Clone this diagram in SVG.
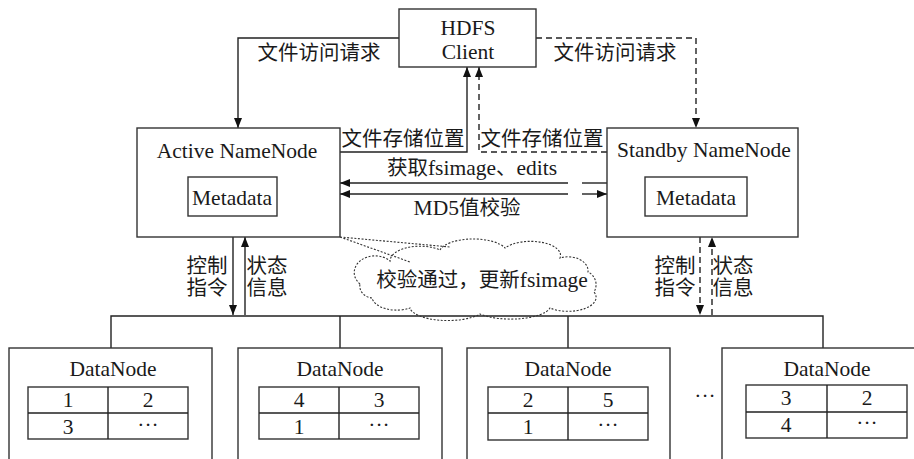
<svg xmlns="http://www.w3.org/2000/svg" width="914" height="459" viewBox="0 0 914 459">
<defs>
<style>
.box{fill:#fff;stroke:#333;stroke-width:1.4}
.ln{fill:none;stroke:#222;stroke-width:1.4}
.dl{fill:none;stroke:#222;stroke-width:1.4;stroke-dasharray:6 4}
.dot{fill:none;stroke:#333;stroke-width:1.1;stroke-dasharray:2 1.6}
.t{font-family:"Liberation Serif","Noto Sans CJK SC",serif;font-size:21.5px;fill:#1a1a1a;text-anchor:middle}
.c{font-family:"Liberation Serif","Noto Sans CJK SC",serif;font-size:20.5px;fill:#1a1a1a;text-anchor:middle}
</style>
<marker id="ah" markerUnits="userSpaceOnUse" markerWidth="10" markerHeight="8" refX="10" refY="4" orient="auto">
<path d="M0,0 L10,4 L0,8 z" fill="#111"/>
</marker>
</defs>
<rect width="914" height="459" fill="#fff"/>

<g id="connectors">
<path class="ln" d="M399,38 H238 V128" marker-end="url(#ah)"/>
<path class="dl" d="M536,38 H696 V128" marker-end="url(#ah)"/>
<path class="ln" d="M340,152 H467 V67" marker-end="url(#ah)"/>
<path class="dl" d="M607,152 H479 V67" marker-end="url(#ah)"/>
<path class="ln" d="M568,183 H340" marker-end="url(#ah)"/>
<path class="ln" d="M582,183 H607"/>
<path class="ln" d="M568,194 H340" marker-end="url(#ah)"/>
<path class="ln" d="M582,194 H607" marker-end="url(#ah)"/>
<path class="ln" d="M233,237 V315" marker-end="url(#ah)"/>
<path class="ln" d="M245,315 V237" marker-end="url(#ah)"/>
<path class="dl" d="M700,237 V315" marker-end="url(#ah)"/>
<path class="dl" d="M712,315 V237" marker-end="url(#ah)"/>
<path class="ln" d="M111,348 V316 H823 V348 M340,316 V348 M568,316 V348"/>
<path class="dot" d="M340,237 L450,247 M340,237 L410,262"/>
</g>

<g id="labels">
<text class="c" x="319" y="60">文件访问请求</text>
<text class="c" x="615" y="60">文件访问请求</text>
<text class="c" x="403" y="146">文件存储位置</text>
<text class="c" x="542" y="146">文件存储位置</text>
<text class="c" x="472" y="175">获取<tspan font-size="21.5">fsimage</tspan>、<tspan font-size="21.5">edits</tspan></text>
<text class="c" x="467" y="215"><tspan font-size="21.5">MD5</tspan>值校验</text>
<text class="c" x="207" y="273">控制</text>
<text class="c" x="207" y="295">指令</text>
<text class="c" x="267" y="273">状态</text>
<text class="c" x="267" y="295">信息</text>
<text class="c" x="675" y="273">控制</text>
<text class="c" x="675" y="295">指令</text>
<text class="c" x="733" y="273">状态</text>
<text class="c" x="733" y="295">信息</text>
</g>

<g id="client">
<rect class="box" x="399" y="9" width="137" height="58"/>
<text class="t" x="468" y="35" font-size="20">HDFS</text>
<text class="t" x="468" y="59" font-size="20">Client</text>
</g>

<g id="active">
<rect class="box" x="137" y="128" width="203" height="109"/>
<text class="t" x="237" y="158">Active NameNode</text>
<rect class="box" x="188" y="177" width="89" height="39"/>
<text class="t" x="232" y="205">Metadata</text>
</g>

<g id="standby">
<rect class="box" x="607" y="128" width="191" height="109"/>
<text class="t" x="704" y="157">Standby NameNode</text>
<rect class="box" x="645" y="177" width="102" height="39"/>
<text class="t" x="696" y="205">Metadata</text>
</g>

<g id="cloud">
<path class="dot" d="M360,284 A20,16 0 0 1 390,261 A30,15 0 0 1 440,250 A34,14 0 0 1 505,248 A30,14 0 0 1 560,258 A20,14 0 0 1 588,272 A14,14 0 0 1 594,292 A28,14 0 0 1 550,308 A40,14 0 0 1 480,314 A38,14 0 0 1 410,308 A25,14 0 0 1 372,298 A14,12 0 0 1 360,284 Z" fill="#fff"/>
<text class="c" x="482" y="287">校验通过，更新<tspan font-size="21.5">fsimage</tspan></text>
</g>

<g id="dn1">
<rect class="box" x="9" y="348" width="203" height="125"/>
<text class="t" x="113" y="376">DataNode</text>
<rect class="box" x="28" y="387" width="160" height="52"/>
<path class="ln" d="M28,413 H188 M108,387 V439"/>
<text class="t" x="68" y="407">1</text><text class="t" x="148" y="407">2</text>
<text class="t" x="68" y="434">3</text><text class="t" x="148" y="432">···</text>
</g>

<g id="dn2">
<rect class="box" x="238" y="348" width="204" height="125"/>
<text class="t" x="340" y="376">DataNode</text>
<rect class="box" x="259" y="387" width="160" height="52"/>
<path class="ln" d="M259,413 H419 M339,387 V439"/>
<text class="t" x="299" y="407">4</text><text class="t" x="379" y="407">3</text>
<text class="t" x="299" y="434">1</text><text class="t" x="379" y="432">···</text>
</g>

<g id="dn3">
<rect class="box" x="467" y="348" width="203" height="125"/>
<text class="t" x="568" y="376">DataNode</text>
<rect class="box" x="488" y="387" width="160" height="53"/>
<path class="ln" d="M488,413 H648 M568,387 V440"/>
<text class="t" x="528" y="407">2</text><text class="t" x="608" y="407">5</text>
<text class="t" x="528" y="434">1</text><text class="t" x="608" y="432">···</text>
</g>

<text class="t" x="705" y="403">···</text>

<g id="dn4">
<rect class="box" x="722" y="348" width="205" height="125"/>
<text class="t" x="827" y="376">DataNode</text>
<rect class="box" x="746" y="385" width="161" height="53"/>
<path class="ln" d="M746,412 H907 M827,385 V438"/>
<text class="t" x="786" y="405">3</text><text class="t" x="867" y="405">2</text>
<text class="t" x="786" y="432">4</text><text class="t" x="867" y="430">···</text>
</g>
</svg>
